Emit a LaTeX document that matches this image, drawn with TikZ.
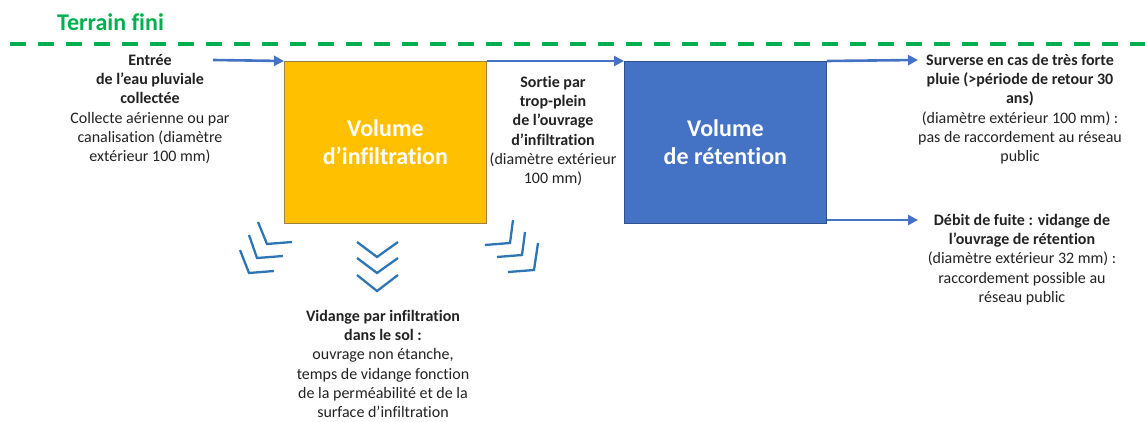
\documentclass[tikz,border=0pt]{standalone}
\usepackage{fontspec}
\setmainfont{Carlito}[Ligatures=NoCommon]
\usetikzlibrary{arrows.meta}
\definecolor{grn}{HTML}{00B050}
\definecolor{ylw}{HTML}{FFC000}
\definecolor{ylwb}{HTML}{A08040}
\definecolor{blu}{HTML}{4472C4}
\definecolor{blub}{HTML}{2F528F}
\definecolor{chev}{HTML}{2E75B6}
\definecolor{txt}{HTML}{222222}
\begin{document}
\begin{tikzpicture}[x=1pt,y=-1pt,
 lbl/.style={align=center, inner sep=0pt, anchor=north, text=txt, font=\fontsize{16}{19.3}\selectfont},
 flow/.style={draw=blu, line width=2.6pt, -{Triangle[length=10pt,width=10pt]}},
 chevron/.style={draw=chev, line width=2.3pt},
 boxlbl/.style={text=white, font=\bfseries\fontsize{24}{28.5}\selectfont, align=center, inner sep=0pt, anchor=north west}]
\useasboundingbox (0,0) rectangle (1145,422);

% ground line
\node[anchor=base west, inner sep=0pt, text=grn, font=\bfseries\fontsize{24}{28}\selectfont] (terrain) at (57,31) {Terrain fini};
\coordinate (gl) at (10,44);
\coordinate (gr) at (1145,44);
\draw[grn, line width=4pt, dash pattern=on 16pt off 12pt] (gl) -- (gr);

% boxes
\node[boxlbl, draw=ylwb, line width=0.8pt, fill=ylw, minimum width=202pt, minimum height=162pt] (vi) at (284,61) {Volume\\d’infiltration};
\node[boxlbl, draw=blub, line width=0.8pt, fill=blu, minimum width=202pt, minimum height=162pt] (vr) at (624,61) {Volume\\de rétention};

% arrows
\coordinate (in) at (213,60);
\coordinate (out1) at (918,60);
\coordinate (out2) at (918,220);
\draw[flow] (in) -- (vi.north west);
\draw[flow] (vi.north east) -- (vr.north west);
\draw[flow] (vr.north east) -- (out1);
\draw[flow] (vr.south east |- out2) -- (out2);

% labels
\node[lbl] (entree) at (150,51.5) {\strut\textbf{Entrée}\\\textbf{de l’eau pluviale}\\\textbf{collectée}\\Collecte aérienne ou par\\canalisation (diamètre\\extérieur 100 mm)};
\node[lbl] (sortie) at (553,73.5) {\strut\textbf{Sortie par}\\\textbf{trop-plein}\\\textbf{de l’ouvrage}\\\textbf{d’infiltration}\\(diamètre extérieur\\100 mm)};
\node[lbl] (surverse) at (1020,51.5) {\strut\textbf{Surverse en cas de très forte}\\\textbf{pluie (>période de retour 30}\\\textbf{ans)}\\(diamètre extérieur 100 mm) :\\pas de raccordement au réseau\\public};
\node[lbl] (debit) at (1022,211.5) {\strut\textbf{Débit de fuite : vidange de}\\\textbf{l’ouvrage de rétention}\\(diamètre extérieur 32 mm) :\\raccordement possible au\\réseau public};
\node[lbl] (vidange) at (383,307.5) {\strut\textbf{Vidange par infiltration}\\\textbf{dans le sol :}\\ouvrage non étanche,\\temps de vidange fonction\\de la perméabilité et de la\\surface d’infiltration};

% chevrons: left
\draw[chevron] (258,222) -- (267,244) -- (292,242);
\draw[chevron] (249,235) -- (257,258) -- (283,256);
\draw[chevron] (240,250) -- (249,273) -- (274,271);
% chevrons: centre
\draw[chevron] (357,242) -- (377,257) -- (398,242);
\draw[chevron] (357,258) -- (377,273) -- (398,258);
\draw[chevron] (357,275) -- (377,291) -- (398,275);
% chevrons: right
\draw[chevron] (513,220) -- (510,243) -- (485,245);
\draw[chevron] (525,232) -- (522,255) -- (497,257);
\draw[chevron] (538,243) -- (534,270) -- (508,272);
\end{tikzpicture}
\end{document}
